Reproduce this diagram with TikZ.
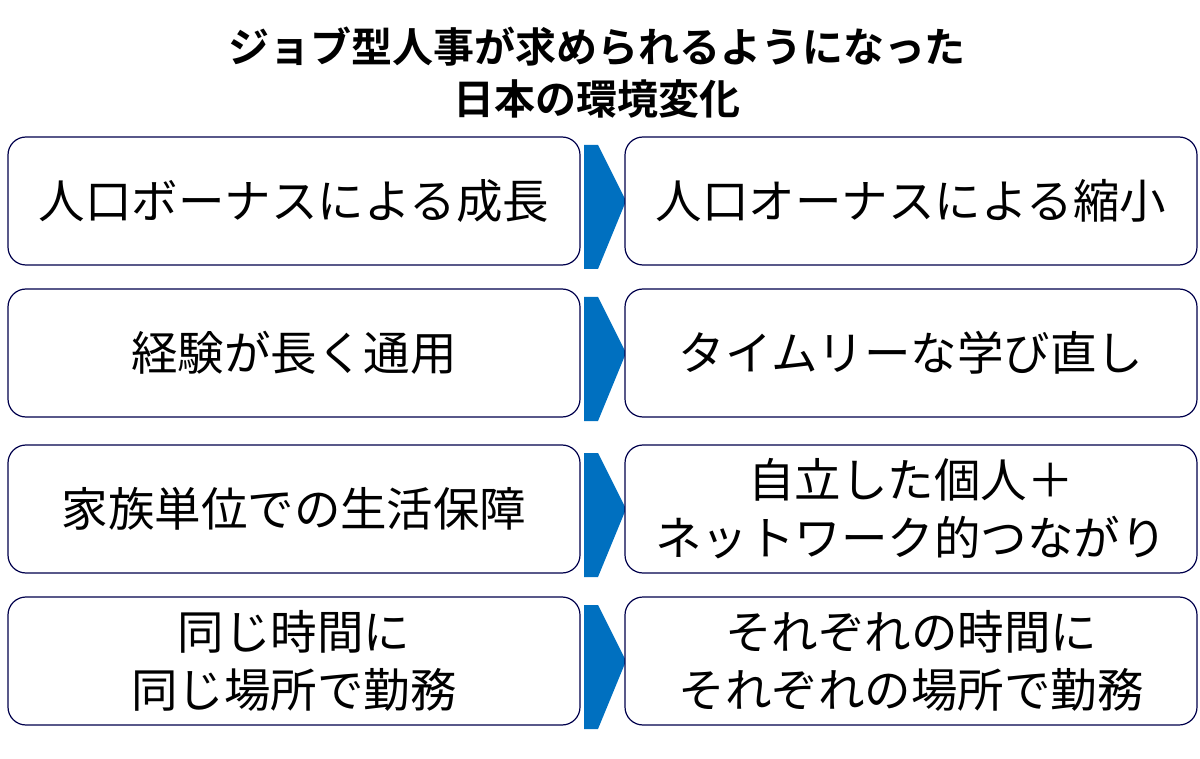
\documentclass[tikz,border=0pt]{standalone}
\usepackage{fontspec}
\setmainfont{Noto Sans CJK JP}
\newfontfamily\jpb{Noto Sans CJK JP Bold}
\begin{document}
\begin{tikzpicture}[x=1pt,y=-1pt,
 box/.style={draw=black!70!blue,line width=1.2pt,fill=white,rounded corners=18pt,minimum width=572pt,minimum height=128pt,align=center,font=\fontsize{46.5}{58}\selectfont,inner sep=0pt}]
\useasboundingbox (0,0) rectangle (1200,759);
\node[font=\jpb\fontsize{41}{52}\selectfont,align=center] (t) at (597,73) {ジョブ型人事が求められるようになった\\日本の環境変化};
\foreach \i/\y in {1/201,2/353,3/509,4/661}{
 \fill[color={rgb,255:red,0;green,112;blue,192}] (584,\y-56) -- (598,\y-56) -- (626,\y) -- (598,\y+68) -- (584,\y+68) -- cycle;
}
\node[box] (l1) at (294,201) {人口ボーナスによる成長};
\node[box] (r1) at (911,201) {人口オーナスによる縮小};
\node[box] (l2) at (294,353) {経験が長く通用};
\node[box] (r2) at (911,353) {タイムリーな学び直し};
\node[box] (l3) at (294,509) {家族単位での生活保障};
\node[box] (r3) at (911,509) {自立した個人＋\\ネットワーク的つながり};
\node[box] (l4) at (294,661) {同じ時間に\\同じ場所で勤務};
\node[box] (r4) at (911,661) {それぞれの時間に\\それぞれの場所で勤務};
\end{tikzpicture}
\end{document}
